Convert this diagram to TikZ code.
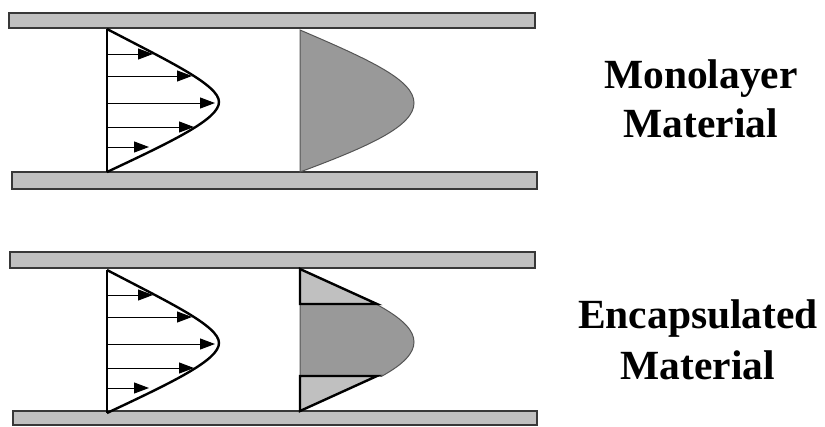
\documentclass[tikz,border=0pt]{standalone}
\usepackage{fontspec}
\setmainfont{Liberation Serif}
\usetikzlibrary{arrows.meta}
\definecolor{barfill}{HTML}{C0C0C0}
\definecolor{barline}{HTML}{383838}
\definecolor{darkfill}{HTML}{999999}
\definecolor{fillline}{HTML}{555555}
\tikzset{
  plate/.style={fill=barfill, draw=barline, line width=1.4pt},
  velcurve/.style={draw=black, line width=2.4pt, line join=round},
  wallline/.style={draw=black, line width=1.4pt},
  velarrow/.style={draw=black, line width=1pt, -{Triangle[length=15pt,width=11pt]}},
  proffill/.style={fill=darkfill, draw=fillline, line width=1pt},
  layertri/.style={fill=barfill, draw=black, line width=2.4pt, line join=miter},
  lbl/.style={font=\bfseries\fontsize{41.5}{49}\selectfont, anchor=base, inner sep=0pt}
}
\newcommand{\velprofile}[2]{%
  \begin{scope}[shift={(#1,#2)}]
    \draw[wallline] (0,0) -- (0,143);
    \foreach \yy/\xx in {25/46, 47/85, 74/108, 98/87, 118/42}
      \draw[velarrow] (-1,\yy) -- (\xx,\yy);
    \draw[velcurve] (0,0) .. controls (63,33) and (112,56) .. (112,73)
      .. controls (112,90) and (66,112) .. (0,143);
  \end{scope}}
\begin{document}
\begin{tikzpicture}[x=1pt,y=-1pt]
\useasboundingbox (0,0) rectangle (825,426);
% plates
\draw[plate] (9,13) rectangle (535,28);
\draw[plate] (12,172) rectangle (537,189);
\draw[plate] (10,252) rectangle (535,268);
\draw[plate] (13,411) rectangle (537,425);
% velocity profiles
\velprofile{107}{29}
\velprofile{107}{270}
% monolayer filled profile
\begin{scope}[shift={(300,30)}]
  \draw[proffill] (0,0) .. controls (70,30) and (114,50) .. (114,73)
    .. controls (114,96) and (70,116) .. (0,142) -- cycle;
\end{scope}
% encapsulated filled profile
\begin{scope}[shift={(300,269)}]
  \begin{scope}
    \clip (-5,35) rectangle (130,107);
    \draw[proffill] (0,0) .. controls (70,30) and (114,50) .. (114,73)
      .. controls (114,96) and (70,116) .. (0,142) -- cycle;
  \end{scope}
  \draw[layertri] (0,0) -- (77,35) -- (0,35) -- cycle;
  \draw[layertri] (0,107) -- (77,107) -- (0,142) -- cycle;
\end{scope}
% labels
\node[lbl] (mono1) at (701,88) {Monolayer};
\node[lbl] (mono2) at (701,137) {Material};
\node[lbl] (enc1) at (698,328) {Encapsulated};
\node[lbl] (enc2) at (698,379) {Material};
\end{tikzpicture}
\end{document}
